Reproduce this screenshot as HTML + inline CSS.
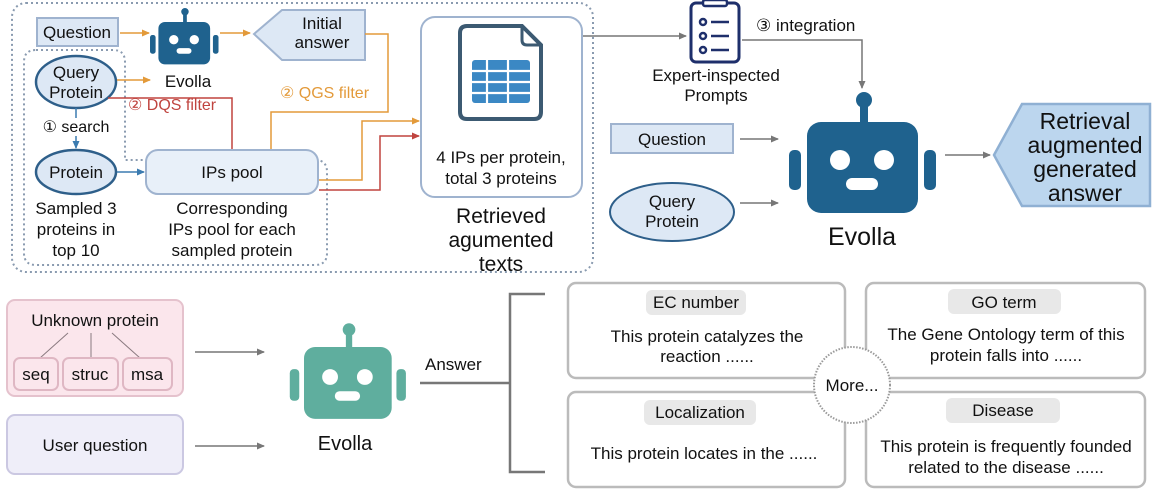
<!DOCTYPE html>
<html><head><meta charset="utf-8"><style>
html,body{margin:0;padding:0;background:#fff}
svg{display:block}
text{font-family:"Liberation Sans",Arial,sans-serif;fill:#111}
</style></head><body>
<svg width="1153" height="490" viewBox="0 0 1153 490" xmlns="http://www.w3.org/2000/svg">
<defs>
<marker id="ag" markerWidth="8" markerHeight="8" refX="7" refY="4" orient="auto" markerUnits="userSpaceOnUse"><path d="M0,0.5 L8,4 L0,7.5z" fill="#777"/></marker>
<marker id="ao" markerWidth="8" markerHeight="8" refX="7" refY="4" orient="auto" markerUnits="userSpaceOnUse"><path d="M0,0.5 L8,4 L0,7.5z" fill="#e39a3a"/></marker>
<marker id="ar" markerWidth="8" markerHeight="8" refX="7" refY="4" orient="auto" markerUnits="userSpaceOnUse"><path d="M0,0.5 L8,4 L0,7.5z" fill="#c0443f"/></marker>
<marker id="ab" markerWidth="8" markerHeight="8" refX="7" refY="4" orient="auto" markerUnits="userSpaceOnUse"><path d="M0,0.5 L8,4 L0,7.5z" fill="#3b7bb0"/></marker>
<g id="robot">
<circle cx="57" cy="-22" r="8"/><rect x="53" y="-16" width="8" height="18"/>
<rect x="0" y="0" width="111" height="91" rx="14"/>
<rect x="-18" y="28" width="12" height="40" rx="5"/><rect x="117" y="28" width="12" height="40" rx="5"/>
<circle cx="33" cy="38" r="10" fill="#fff"/><circle cx="77" cy="38" r="10" fill="#fff"/>
<rect x="39" y="56" width="32" height="12" rx="6" fill="#fff"/>
</g>
</defs>

<rect x="12" y="3" width="581" height="269" rx="14" fill="none" stroke="#8a9bb0" stroke-width="2" stroke-dasharray="2,3"/>
<path d="M36,50 H113 Q125,50 125,62 V160 H315 Q327,160 327,172 V253 Q327,265 315,265 H36 Q24,265 24,253 V62 Q24,50 36,50 Z" fill="none" stroke="#8a9bb0" stroke-width="2" stroke-dasharray="2,3"/>

<rect x="37" y="18" width="81" height="28" fill="#dde8f5" stroke="#9fb3cf" stroke-width="2"/>
<text x="77" y="38" font-size="17" text-anchor="middle">Question</text>
<g transform="translate(158.4,22) scale(0.466)" fill="#1f628e"><use href="#robot"/></g>
<text x="188" y="87" font-size="17" text-anchor="middle">Evolla</text>
<line x1="120" y1="33" x2="149" y2="33" stroke="#e39a3a" stroke-width="1.5" marker-end="url(#ao)"/>
<line x1="220" y1="33" x2="250" y2="33" stroke="#e39a3a" stroke-width="1.5" marker-end="url(#ao)"/>
<path d="M254,34 L282,10 H365 V60 H282 Z" fill="#dde8f5" stroke="#9fb3cf" stroke-width="2"/>
<text x="322" y="29" font-size="17" text-anchor="middle">Initial</text>
<text x="322" y="48" font-size="17" text-anchor="middle">answer</text>

<ellipse cx="76" cy="82" rx="40" ry="26" fill="#dde8f5" stroke="#2e5f8a" stroke-width="2.5"/>
<text x="76" y="78" font-size="17" text-anchor="middle">Query</text>
<text x="76" y="98" font-size="17" text-anchor="middle">Protein</text>
<line x1="117" y1="80" x2="150" y2="80" stroke="#e39a3a" stroke-width="1.5" marker-end="url(#ao)"/>
<polyline points="108,98 232,98 232,150" fill="none" stroke="#c0443f" stroke-width="1.5"/>
<text x="128" y="110" font-size="16" style="fill:#c0443f">② DQS filter</text>
<polyline points="365,34 388,34 388,112 271,112 271,150" fill="none" stroke="#e39a3a" stroke-width="1.5"/>
<text x="280" y="98" font-size="16" style="fill:#e39a3a">② QGS filter</text>
<line x1="76" y1="108" x2="76" y2="148" stroke="#3b7bb0" stroke-width="1.5" marker-end="url(#ab)"/>
<rect x="40" y="118" width="72" height="18" fill="#fff"/>
<text x="76" y="132" font-size="16" text-anchor="middle">① search</text>

<ellipse cx="76" cy="172" rx="40" ry="22" fill="#dde8f5" stroke="#2e5f8a" stroke-width="2.5"/>
<text x="76" y="178" font-size="17" text-anchor="middle">Protein</text>
<line x1="117" y1="172" x2="144" y2="172" stroke="#3b7bb0" stroke-width="1.5" marker-end="url(#ab)"/>
<rect x="146" y="150" width="172" height="44" rx="12" fill="#e8f0f9" stroke="#9fb3cf" stroke-width="2"/>
<text x="232" y="178" font-size="17" text-anchor="middle">IPs pool</text>
<text x="76" y="214" font-size="17" text-anchor="middle">Sampled 3</text>
<text x="76" y="235" font-size="17" text-anchor="middle">proteins in</text>
<text x="76" y="256" font-size="17" text-anchor="middle">top 10</text>
<text x="232" y="214" font-size="17" text-anchor="middle">Corresponding</text>
<text x="232" y="235" font-size="17" text-anchor="middle">IPs pool for each</text>
<text x="232" y="256" font-size="17" text-anchor="middle">sampled protein</text>
<polyline points="319,180 362,180 362,121 419,121" fill="none" stroke="#e39a3a" stroke-width="1.5" marker-end="url(#ao)"/>
<polyline points="319,190 380,190 380,136 419,136" fill="none" stroke="#c0443f" stroke-width="1.5" marker-end="url(#ar)"/>

<rect x="421" y="17" width="161" height="180" rx="14" fill="#fff" stroke="#9fb3cf" stroke-width="2"/>
<path d="M467,26 H522 L541,45 V112 Q541,119 534,119 H467 Q460,119 460,112 V33 Q460,26 467,26 Z" fill="none" stroke="#3c5a72" stroke-width="4"/>
<path d="M522,26 V40 Q522,45 527,45 H541" fill="none" stroke="#3c5a72" stroke-width="3"/>
<rect x="472" y="60" width="58" height="43" rx="3" fill="#3b88c4"/>
<g stroke="#fff" stroke-width="2.2"><line x1="472" y1="71" x2="530" y2="71"/><line x1="472" y1="82" x2="530" y2="82"/><line x1="472" y1="93" x2="530" y2="93"/><line x1="487" y1="60" x2="487" y2="103"/><line x1="508" y1="60" x2="508" y2="103"/></g>
<text x="501" y="163" font-size="17" text-anchor="middle">4 IPs per protein,</text>
<text x="501" y="184" font-size="17" text-anchor="middle">total 3 proteins</text>
<text x="501" y="223" font-size="21" text-anchor="middle">Retrieved</text>
<text x="501" y="247" font-size="21" text-anchor="middle">agumented</text>
<text x="501" y="271" font-size="21" text-anchor="middle">texts</text>

<line x1="583" y1="36" x2="686" y2="36" stroke="#777" stroke-width="1.5" marker-end="url(#ag)"/>
<rect x="691" y="3" width="48" height="59" rx="5" fill="#fff" stroke="#1e2f6b" stroke-width="3"/>
<rect x="703" y="0" width="24" height="6" rx="2" fill="#fff" stroke="#1e2f6b" stroke-width="2.5"/>
<g fill="none" stroke="#1e2f6b" stroke-width="2.5"><circle cx="703" cy="22" r="3"/><circle cx="703" cy="36" r="3"/><circle cx="703" cy="50" r="3"/><line x1="711" y1="22" x2="729" y2="22"/><line x1="711" y1="36" x2="729" y2="36"/><line x1="711" y1="50" x2="729" y2="50"/></g>
<text x="716" y="81" font-size="17" text-anchor="middle">Expert-inspected</text>
<text x="716" y="101" font-size="17" text-anchor="middle">Prompts</text>
<text x="756" y="31" font-size="17">③ integration</text>
<polyline points="742,40 862,40 862,88" fill="none" stroke="#777" stroke-width="1.5" marker-end="url(#ag)"/>

<rect x="611" y="124" width="122" height="29" fill="#dde8f5" stroke="#9fb3cf" stroke-width="2"/>
<text x="672" y="145" font-size="17" text-anchor="middle">Question</text>
<ellipse cx="672" cy="212" rx="62" ry="29" fill="#dde8f5" stroke="#2e5f8a" stroke-width="2"/>
<text x="672" y="207" font-size="17" text-anchor="middle">Query</text>
<text x="672" y="227" font-size="17" text-anchor="middle">Protein</text>
<line x1="740" y1="139" x2="778" y2="139" stroke="#777" stroke-width="1.5" marker-end="url(#ag)"/>
<line x1="740" y1="203" x2="778" y2="203" stroke="#777" stroke-width="1.5" marker-end="url(#ag)"/>

<g transform="translate(807,122)" fill="#1f628e"><use href="#robot"/></g>
<text x="862" y="245" font-size="25" text-anchor="middle">Evolla</text>
<line x1="945" y1="155" x2="990" y2="155" stroke="#777" stroke-width="1.5" marker-end="url(#ag)"/>
<path d="M994,155 L1022,104 H1150 V206 H1022 Z" fill="#bcd6ee" stroke="#8fb0d3" stroke-width="2.5"/>
<text x="1085" y="129" font-size="23" text-anchor="middle">Retrieval</text>
<text x="1085" y="153" font-size="23" text-anchor="middle">augmented</text>
<text x="1085" y="177" font-size="23" text-anchor="middle">generated</text>
<text x="1085" y="201" font-size="23" text-anchor="middle">answer</text>

<rect x="7" y="300" width="176" height="96" rx="8" fill="#fbe6ec" stroke="#e5c2cd" stroke-width="2"/>
<text x="95" y="326" font-size="17" text-anchor="middle">Unknown protein</text>
<g stroke="#8a7a80" stroke-width="1"><line x1="68" y1="333" x2="40" y2="358"/><line x1="91" y1="333" x2="91" y2="358"/><line x1="112" y1="333" x2="140" y2="358"/></g>
<g fill="#fbe6ec" stroke="#dfb7c3" stroke-width="2"><rect x="14" y="358" width="44" height="32" rx="6"/><rect x="63" y="358" width="55" height="32" rx="6"/><rect x="123" y="358" width="49" height="32" rx="6"/></g>
<text x="36" y="380" font-size="17" text-anchor="middle">seq</text>
<text x="90" y="380" font-size="17" text-anchor="middle">struc</text>
<text x="147" y="380" font-size="17" text-anchor="middle">msa</text>
<rect x="7" y="415" width="176" height="59" rx="8" fill="#efeef9" stroke="#cbc8e2" stroke-width="2"/>
<text x="95" y="451" font-size="17" text-anchor="middle">User question</text>
<line x1="195" y1="352" x2="264" y2="352" stroke="#777" stroke-width="1.5" marker-end="url(#ag)"/>
<line x1="195" y1="446" x2="264" y2="446" stroke="#777" stroke-width="1.5" marker-end="url(#ag)"/>
<g transform="translate(304,347) scale(0.79)" fill="#5fae9e"><use href="#robot"/></g>
<text x="345" y="450" font-size="20" text-anchor="middle">Evolla</text>
<text x="425" y="370" font-size="17">Answer</text>
<line x1="420" y1="383" x2="510" y2="383" stroke="#777" stroke-width="2.5"/>
<polyline points="545,294 510,294 510,472 545,472" fill="none" stroke="#777" stroke-width="2.5"/>

<g fill="#fff" stroke="#bbb" stroke-width="2.5">
<rect x="568" y="283" width="277" height="95" rx="8"/><rect x="866" y="283" width="279" height="95" rx="8"/>
<rect x="568" y="392" width="277" height="95" rx="8"/><rect x="866" y="392" width="279" height="95" rx="8"/>
</g>
<g fill="#e8e8e8"><rect x="646" y="290" width="100" height="25" rx="6"/><rect x="948" y="289" width="113" height="25" rx="6"/><rect x="644" y="400" width="112" height="25" rx="6"/><rect x="946" y="398" width="114" height="25" rx="6"/></g>
<text x="696" y="308" font-size="17" text-anchor="middle">EC number</text>
<text x="1004" y="308" font-size="17" text-anchor="middle">GO term</text>
<text x="700" y="418" font-size="17" text-anchor="middle">Localization</text>
<text x="1003" y="416" font-size="17" text-anchor="middle">Disease</text>
<text x="707" y="342" font-size="17" text-anchor="middle">This protein catalyzes the</text>
<text x="707" y="362" font-size="17" text-anchor="middle">reaction ......</text>
<text x="1006" y="340" font-size="17" text-anchor="middle">The Gene Ontology term of this</text>
<text x="1006" y="361" font-size="17" text-anchor="middle">protein falls into ......</text>
<text x="704" y="459" font-size="17" text-anchor="middle">This protein locates in the ......</text>
<text x="1006" y="452" font-size="17" text-anchor="middle">This protein is frequently founded</text>
<text x="1006" y="473" font-size="17" text-anchor="middle">related to the disease ......</text>
<circle cx="852" cy="385" r="38" fill="#fff" stroke="#999" stroke-width="2" stroke-dasharray="1.5,1.5"/>
<text x="852" y="391" font-size="17" text-anchor="middle">More...</text>
</svg>
</body></html>
